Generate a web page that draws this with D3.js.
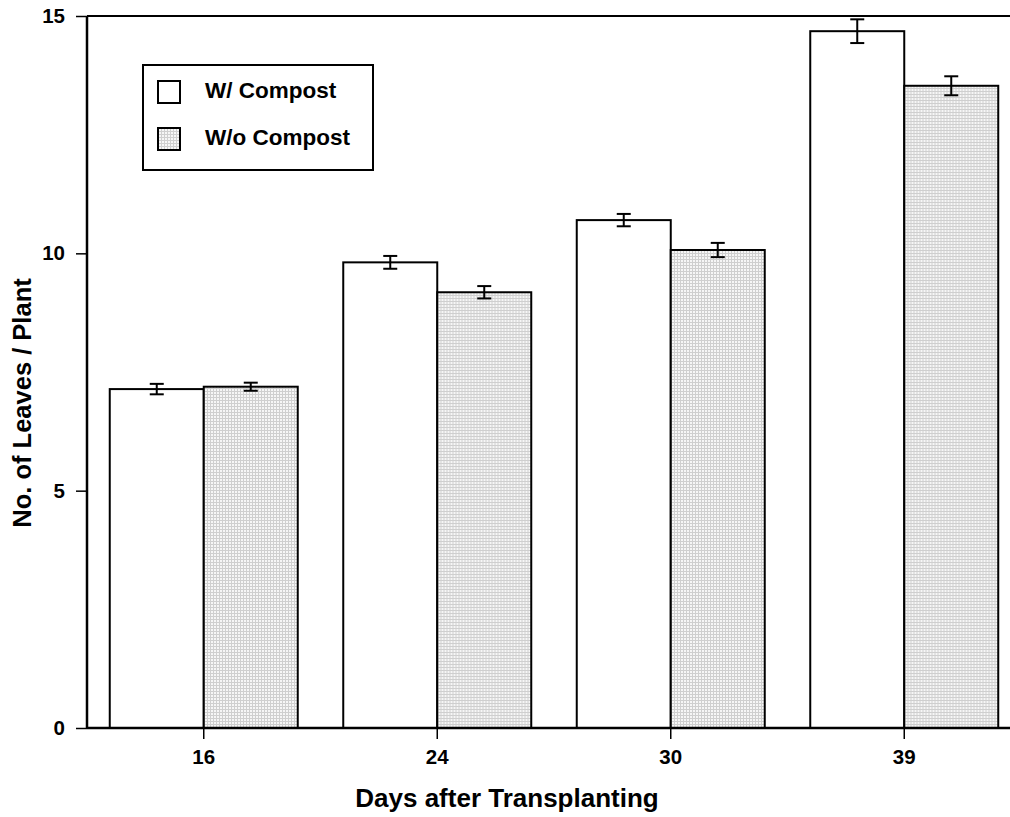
<!DOCTYPE html>
<html>
<head>
<meta charset="utf-8">
<script src="https://cdn.jsdelivr.net/npm/d3@7"></script>
<style>
    body { margin: 0; background: #fff; }
    svg { display: block; font-family: "Liberation Sans", Arial, sans-serif; font-weight: bold; }
</style>
</head>
<body>
<svg id="chart" width="1010" height="817"></svg>
<script>
// values
const days = ['16', '24', '30', '39'];
const seriesNames = ['W/ Compost', 'W/o Compost'];
const withCompost = [7.14, 9.81, 10.70, 14.68];
const withCompostErr = [0.11, 0.135, 0.13, 0.25];
const withoutCompost = [7.19, 9.18, 10.07, 13.53];
const withoutCompostErr = [0.085, 0.13, 0.15, 0.2];
const yTicks = [0, 5, 10, 15];

const svg = d3.select('#chart');

const chartMargins = { left: 87, top: 16, bottom: 89 };
const plotW = 934; // runs past the right edge, like the original crop
const h = 817 - chartMargins.top - chartMargins.bottom;

// grey dotted fill
const defs = svg.append('defs');
const pat = defs.append('pattern')
    .attr('id', 'greyFill')
    .attr('width', 3).attr('height', 3)
    .attr('patternUnits', 'userSpaceOnUse');
pat.append('rect').attr('width', 3).attr('height', 3).attr('fill', '#cfcfcf');
pat.append('rect').attr('x', 1).attr('y', 1).attr('width', 2).attr('height', 2).attr('fill', '#f6f6f6');

const fills = ['#ffffff', 'url(#greyFill)'];

const yScale = d3.scaleLinear().domain([0, 15]).range([h, 0]);
const xScale = d3.scaleBand().domain(days).range([0, plotW]).padding(0);

const pairW = 188;
const xSub = d3.scaleBand()
    .domain(seriesNames)
    .range([xScale.bandwidth() / 2 - pairW / 2, xScale.bandwidth() / 2 + pairW / 2]);

const dataSet = days.map((d, i) => ({
    day: d,
    bars: [
        { name: seriesNames[0], value: withCompost[i], err: withCompostErr[i] },
        { name: seriesNames[1], value: withoutCompost[i], err: withoutCompostErr[i] }
    ]
}));

const chartGroup = svg.append('g')
    .attr('transform', `translate(${chartMargins.left},${chartMargins.top})`);

// bars
const groups = chartGroup.selectAll('g.day')
    .data(dataSet)
    .enter().append('g')
    .classed('day', true)
    .attr('transform', d => `translate(${xScale(d.day)},0)`);

groups.selectAll('rect')
    .data(d => d.bars)
    .enter().append('rect')
    .attr('x', d => xSub(d.name))
    .attr('y', d => yScale(d.value))
    .attr('width', xSub.bandwidth())
    .attr('height', d => h - yScale(d.value))
    .attr('fill', (d, i) => fills[i])
    .attr('stroke', '#000')
    .attr('stroke-width', 2);

// error bars
const capW = 14;
const errs = groups.selectAll('g.err')
    .data(d => d.bars)
    .enter().append('g')
    .classed('err', true)
    .attr('stroke', '#000')
    .attr('stroke-width', 2);
const cx = d => xSub(d.name) + xSub.bandwidth() / 2;
errs.append('line')
    .attr('x1', cx).attr('x2', cx)
    .attr('y1', d => yScale(d.value + d.err))
    .attr('y2', d => yScale(d.value - d.err));
errs.append('line')
    .attr('x1', d => cx(d) - capW / 2).attr('x2', d => cx(d) + capW / 2)
    .attr('y1', d => yScale(d.value + d.err))
    .attr('y2', d => yScale(d.value + d.err));
errs.append('line')
    .attr('x1', d => cx(d) - capW / 2).attr('x2', d => cx(d) + capW / 2)
    .attr('y1', d => yScale(d.value - d.err))
    .attr('y2', d => yScale(d.value - d.err));

// axes
const yAxis = d3.axisLeft(yScale).tickValues(yTicks).tickSize(11).tickPadding(11);
const yG = chartGroup.append('g').classed('axis y', true).call(yAxis);
const xAxis = d3.axisBottom(xScale).tickSize(11).tickPadding(10);
const xG = chartGroup.append('g').classed('axis x', true)
    .attr('transform', `translate(0,${h})`).call(xAxis);

[yG, xG].forEach(g => {
    g.select('.domain').remove();
    g.selectAll('line').attr('stroke', '#000').attr('stroke-width', 1.5);
    g.selectAll('text').attr('fill', '#000').style('font-size', '20.5px').style('font-weight', 'bold');
});

// frame lines: left, top and bottom
chartGroup.append('line')
    .attr('x1', 0).attr('x2', 0).attr('y1', 0).attr('y2', h)
    .attr('stroke', '#000').attr('stroke-width', 2.5);
chartGroup.append('line')
    .attr('x1', 0).attr('x2', plotW).attr('y1', 0).attr('y2', 0)
    .attr('stroke', '#000').attr('stroke-width', 2);
chartGroup.append('line')
    .attr('x1', 0).attr('x2', plotW).attr('y1', h).attr('y2', h)
    .attr('stroke', '#000').attr('stroke-width', 2.5);

// legend
const legend = svg.append('g').attr('transform', 'translate(143,65)');
legend.append('rect')
    .attr('width', 230).attr('height', 105)
    .attr('fill', '#fff').attr('stroke', '#000').attr('stroke-width', 2);
const items = legend.selectAll('g.item')
    .data(seriesNames)
    .enter().append('g')
    .classed('item', true)
    .attr('transform', (d, i) => `translate(15,${16 + i * 47})`);
items.append('rect')
    .attr('width', 22).attr('height', 22)
    .attr('fill', (d, i) => fills[i])
    .attr('stroke', '#000').attr('stroke-width', 2);
items.append('text')
    .attr('x', 47).attr('y', 17)
    .style('font-size', '22.5px')
    .text(d => d);

// axis titles
svg.append('text')
    .attr('text-anchor', 'middle')
    .attr('x', 507).attr('y', 807)
    .style('font-size', '26px')
    .text('Days after Transplanting');

svg.append('text')
    .attr('text-anchor', 'middle')
    .attr('transform', 'translate(31,403) rotate(-90)')
    .style('font-size', '25.5px')
    .text('No. of Leaves / Plant');
</script>
</body>
</html>
